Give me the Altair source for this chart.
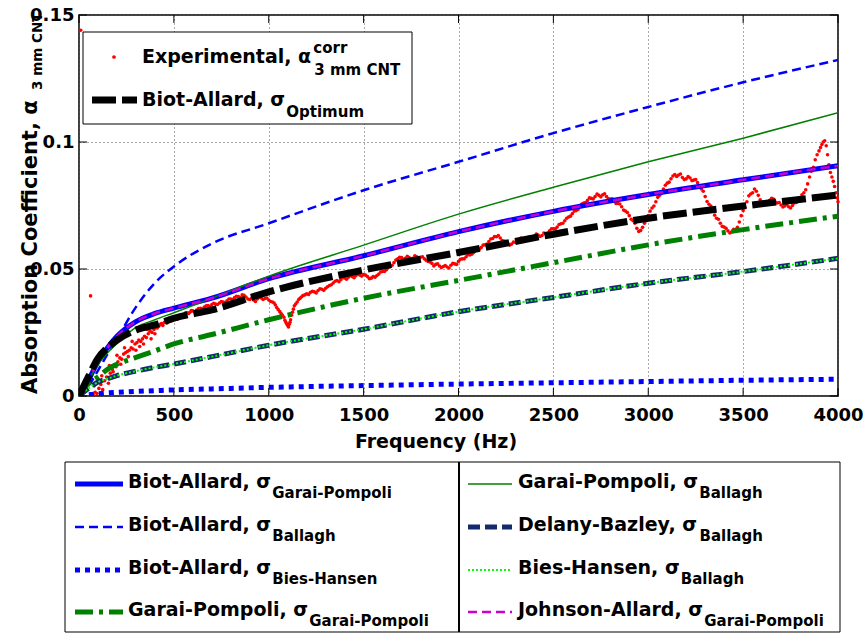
import altair as alt
import pandas as pd

FONT = "DejaVu Sans"

# ---------------- data ----------------
freq = [0, 50, 100, 150, 200, 300, 400, 500, 700, 1000, 1500, 2000, 2500, 3000, 3500, 4000]

ba_gp      = [0, 0.0063, 0.0135, 0.0190, 0.0235, 0.0293, 0.0325, 0.0346, 0.0385, 0.0462, 0.0552, 0.0647, 0.0727, 0.0793, 0.0851, 0.0907]
ba_ballagh = [0, 0.0040, 0.0100, 0.0165, 0.0225, 0.0350, 0.0445, 0.0510, 0.0600, 0.0680, 0.0810, 0.0922, 0.1035, 0.1138, 0.1235, 0.1323]
ba_bh      = [0, 0.0005, 0.0009, 0.0012, 0.0014, 0.0018, 0.0021, 0.0024, 0.0028, 0.0034, 0.0041, 0.0047, 0.0052, 0.0057, 0.0062, 0.0066]
gp_gp      = [0, 0.0050, 0.0075, 0.0105, 0.0125, 0.0152, 0.0178, 0.0205, 0.0242, 0.0300, 0.0385, 0.0455, 0.0525, 0.0595, 0.0655, 0.0708]
gp_ballagh = [0, 0.0060, 0.0125, 0.0170, 0.0207, 0.0270, 0.0300, 0.0328, 0.0385, 0.0472, 0.0594, 0.0716, 0.0822, 0.0922, 0.1015, 0.1115]
db_ballagh = [0, 0.0030, 0.0055, 0.0068, 0.0080, 0.0098, 0.0113, 0.0126, 0.0155, 0.0200, 0.0263, 0.0332, 0.0388, 0.0444, 0.0490, 0.0542]
bh_ballagh = [0, 0.0030, 0.0055, 0.0068, 0.0080, 0.0098, 0.0113, 0.0126, 0.0155, 0.0200, 0.0263, 0.0332, 0.0388, 0.0444, 0.0490, 0.0542]
ja_gp      = [0, 0.0063, 0.0135, 0.0190, 0.0235, 0.0293, 0.0325, 0.0346, 0.0385, 0.0462, 0.0552, 0.0647, 0.0727, 0.0793, 0.0851, 0.0907]
ba_opt     = [0, 0.0076, 0.0148, 0.0190, 0.0220, 0.0260, 0.0280, 0.0306, 0.0339, 0.0410, 0.0496, 0.0565, 0.0637, 0.0700, 0.0748, 0.0791]

exp_points = [
    (9, 0.144), (61, 0.0394),
    (75, 0.0005), (85, 0.0015), (95, 0.0010), (105, 0.0030), (115, 0.0045), (125, 0.0025),
    (135, 0.0060), (145, 0.0075), (155, 0.0050), (165, 0.0090), (175, 0.0105), (185, 0.0120),
    (195, 0.0115), (205, 0.0135), (215, 0.0150), (225, 0.0145), (235, 0.0165), (245, 0.0170),
    (255, 0.0175), (265, 0.0180), (275, 0.0190), (285, 0.0185), (295, 0.0205), (305, 0.0210),
    (315, 0.0220), (325, 0.0215), (335, 0.0225), (345, 0.0235), (355, 0.0230), (365, 0.0245),
    (375, 0.0255), (385, 0.0250), (395, 0.0262), (405, 0.0270), (420, 0.0275), (435, 0.0285),
    (450, 0.0290), (465, 0.0288), (480, 0.0298), (495, 0.0302), (510, 0.0305), (525, 0.0310),
    (540, 0.0318), (555, 0.0322), (570, 0.0328), (585, 0.0330), (600, 0.0335), (620, 0.0338),
    (640, 0.0345), (660, 0.0350), (680, 0.0356), (700, 0.0360), (720, 0.0362), (740, 0.0366),
    (760, 0.0370), (780, 0.0375), (800, 0.0382), (820, 0.0388), (840, 0.0392), (860, 0.0398),
    (880, 0.0390), (900, 0.0380), (920, 0.0378), (940, 0.0382), (960, 0.0386), (980, 0.0384),
    (1000, 0.0378), (1020, 0.0370), (1035, 0.0358), (1050, 0.0340), (1065, 0.0325), (1080, 0.0310),
    (1090, 0.0290), (1100, 0.0278), (1108, 0.0282), (1115, 0.0300), (1125, 0.0330), (1135, 0.0355),
    (1150, 0.0370), (1165, 0.0385), (1180, 0.0395), (1200, 0.0402), (1220, 0.0408), (1240, 0.0410),
    (1260, 0.0415), (1280, 0.0420), (1300, 0.0424), (1320, 0.0435), (1340, 0.0445), (1360, 0.0455),
    (1380, 0.0458), (1400, 0.0465), (1420, 0.0468), (1440, 0.0470), (1460, 0.0474), (1480, 0.0476),
    (1500, 0.0478), (1520, 0.0470), (1540, 0.0464), (1560, 0.0468), (1580, 0.0480), (1600, 0.0490),
    (1620, 0.0497), (1640, 0.0510), (1660, 0.0525), (1680, 0.0540), (1700, 0.0545), (1720, 0.0542),
    (1740, 0.0545), (1760, 0.0542), (1780, 0.0548), (1800, 0.0546), (1820, 0.0540), (1840, 0.0530),
    (1860, 0.0522), (1880, 0.0518), (1900, 0.0512), (1920, 0.0510), (1940, 0.0508), (1960, 0.0515),
    (1980, 0.0520), (2000, 0.0530), (2020, 0.0540), (2040, 0.0548), (2060, 0.0555), (2080, 0.0565),
    (2100, 0.0575), (2120, 0.0585), (2140, 0.0595), (2160, 0.0608), (2180, 0.0620), (2200, 0.0627),
    (2220, 0.0622), (2240, 0.0610), (2260, 0.0600), (2280, 0.0598), (2300, 0.0605), (2320, 0.0615),
    (2340, 0.0620), (2360, 0.0618), (2380, 0.0625), (2400, 0.0630), (2420, 0.0634), (2440, 0.0632),
    (2460, 0.0640), (2480, 0.0650), (2500, 0.0658), (2520, 0.0665), (2540, 0.0678), (2560, 0.0690),
    (2580, 0.0705), (2600, 0.0718), (2620, 0.0730), (2640, 0.0745), (2660, 0.0760), (2680, 0.0770),
    (2700, 0.0778), (2720, 0.0785), (2740, 0.0790), (2760, 0.0792), (2780, 0.0785), (2800, 0.0775),
    (2820, 0.0768), (2840, 0.0758), (2860, 0.0745), (2880, 0.0728), (2900, 0.0710), (2920, 0.0690),
    (2940, 0.0660), (2960, 0.0652), (2980, 0.0680), (3000, 0.0710), (3020, 0.0740), (3040, 0.0765),
    (3060, 0.0790), (3080, 0.0815), (3100, 0.0838), (3120, 0.0855), (3140, 0.0872), (3160, 0.0870),
    (3180, 0.0860), (3200, 0.0855), (3220, 0.0858), (3240, 0.0850), (3260, 0.0840), (3280, 0.0815),
    (3300, 0.0785), (3320, 0.0755), (3340, 0.0730), (3360, 0.0700), (3380, 0.0680), (3400, 0.0665),
    (3420, 0.0650), (3440, 0.0646), (3460, 0.0655), (3480, 0.0685), (3500, 0.0730), (3520, 0.0765),
    (3540, 0.0795), (3560, 0.0815), (3580, 0.0790), (3600, 0.0758), (3620, 0.0755), (3640, 0.0770),
    (3660, 0.0775), (3680, 0.0760), (3700, 0.0752), (3720, 0.0748), (3740, 0.0745), (3760, 0.0750),
    (3780, 0.0762), (3800, 0.0778), (3820, 0.0800), (3840, 0.0835), (3860, 0.0885), (3880, 0.0930),
    (3900, 0.0965), (3915, 0.0990), (3930, 0.1005), (3945, 0.0950), (3960, 0.0880), (3975, 0.0845),
    (3990, 0.0800), (4000, 0.0765),
]

# second pass of readings (the spread of the measured band)
exp_points_b = [
    (80, 0.0040), (100, 0.0060), (120, 0.0080), (140, 0.0100), (160, 0.0120), (180, 0.0095),
    (200, 0.0160), (220, 0.0125), (240, 0.0190), (260, 0.0155), (280, 0.0215), (300, 0.0180),
    (320, 0.0195), (340, 0.0205), (360, 0.0262), (380, 0.0225), (400, 0.0245),
    (412, 0.0268), (428, 0.0282), (442, 0.0278), (458, 0.0292), (472, 0.0295), (488, 0.0296),
    (502, 0.0308), (518, 0.0302), (532, 0.0316), (548, 0.0315), (562, 0.0328), (578, 0.0325),
    (592, 0.0336), (610, 0.0332), (630, 0.0344), (650, 0.0342), (670, 0.0355), (690, 0.0352),
    (710, 0.0365), (730, 0.0360), (750, 0.0372), (770, 0.0368), (790, 0.0382), (810, 0.0380),
    (830, 0.0393), (850, 0.0388), (870, 0.0396), (890, 0.0382), (910, 0.0386), (930, 0.0372),
    (950, 0.0390), (970, 0.0380), (990, 0.0386), (1010, 0.0372), (1028, 0.0366), (1042, 0.0348),
    (1058, 0.0332), (1072, 0.0318), (1085, 0.0298), (1095, 0.0283), (1104, 0.0272), (1112, 0.0290),
    (1120, 0.0318), (1130, 0.0342), (1142, 0.0362), (1158, 0.0380), (1172, 0.0390), (1190, 0.0398),
    (1210, 0.0400), (1230, 0.0412), (1250, 0.0406), (1270, 0.0422), (1290, 0.0416), (1310, 0.0430),
    (1330, 0.0438), (1350, 0.0452), (1370, 0.0450), (1390, 0.0466), (1410, 0.0460), (1430, 0.0474),
    (1450, 0.0466), (1470, 0.0480), (1490, 0.0472), (1510, 0.0476), (1530, 0.0462), (1550, 0.0470),
    (1570, 0.0474), (1590, 0.0488), (1610, 0.0490), (1630, 0.0506), (1650, 0.0515), (1670, 0.0535),
    (1690, 0.0546), (1710, 0.0538), (1730, 0.0550), (1750, 0.0538), (1770, 0.0552), (1790, 0.0542),
    (1810, 0.0548), (1830, 0.0534), (1850, 0.0528), (1870, 0.0512), (1890, 0.0520), (1910, 0.0506),
    (1930, 0.0514), (1950, 0.0504), (1970, 0.0522), (1990, 0.0518), (2010, 0.0538), (2030, 0.0540),
    (2050, 0.0556), (2070, 0.0558), (2090, 0.0574), (2110, 0.0578), (2130, 0.0594), (2150, 0.0598),
    (2170, 0.0618), (2190, 0.0628), (2210, 0.0632), (2230, 0.0612), (2250, 0.0608), (2270, 0.0594),
    (2290, 0.0606), (2310, 0.0606), (2330, 0.0622), (2350, 0.0612), (2370, 0.0626), (2390, 0.0622),
    (2410, 0.0638), (2430, 0.0628), (2450, 0.0642), (2470, 0.0642), (2490, 0.0658), (2510, 0.0658),
    (2530, 0.0675), (2550, 0.0680), (2570, 0.0700), (2590, 0.0708), (2610, 0.0728), (2630, 0.0734),
    (2650, 0.0756), (2670, 0.0762), (2690, 0.0780), (2710, 0.0776), (2730, 0.0795), (2750, 0.0784),
    (2770, 0.0796), (2790, 0.0776), (2810, 0.0776), (2830, 0.0758), (2850, 0.0756), (2870, 0.0732),
    (2890, 0.0722), (2910, 0.0696), (2930, 0.0680), (2950, 0.0648), (2970, 0.0664), (2990, 0.0690),
    (3010, 0.0728), (3030, 0.0748), (3050, 0.0782), (3070, 0.0798), (3090, 0.0830), (3110, 0.0842),
    (3130, 0.0866), (3150, 0.0864), (3170, 0.0874), (3190, 0.0852), (3210, 0.0864), (3230, 0.0848),
    (3250, 0.0852), (3270, 0.0826), (3290, 0.0806), (3310, 0.0766), (3330, 0.0748), (3350, 0.0712),
    (3370, 0.0696), (3390, 0.0668), (3410, 0.0660), (3430, 0.0642), (3450, 0.0656), (3470, 0.0664),
    (3490, 0.0710), (3510, 0.0742), (3530, 0.0788), (3550, 0.0800), (3570, 0.0806), (3590, 0.0772),
    (3610, 0.0764), (3630, 0.0760), (3650, 0.0778), (3670, 0.0764), (3690, 0.0762), (3710, 0.0744),
    (3730, 0.0754), (3750, 0.0740), (3770, 0.0760), (3790, 0.0766), (3810, 0.0792), (3830, 0.0812),
    (3850, 0.0862), (3870, 0.0900), (3890, 0.0950), (3908, 0.0978), (3922, 0.1000), (3938, 0.0985),
    (3952, 0.0910), (3968, 0.0862), (3982, 0.0825), (3996, 0.0780),
]
exp_all = exp_points + exp_points_b
exp_f = [p[0] for p in exp_all]
exp_a = [p[1] for p in exp_all]

x_ticks = [0, 500, 1000, 1500, 2000, 2500, 3000, 3500, 4000]
y_ticks = [0, 0.05, 0.1, 0.15]

# ---------------- layout ----------------
W, H = 759, 381
PL, PT = 79, 15

# approximate DejaVu Sans Bold advance widths (em units) for placing sub/superscripts
GW = {" ": 0.348, ",": 0.381, "-": 0.415, "A": 0.774, "B": 0.762, "D": 0.830, "E": 0.683,
      "G": 0.821, "H": 0.837, "J": 0.372, "P": 0.733, "a": 0.675, "b": 0.716, "d": 0.716,
      "e": 0.678, "h": 0.712, "i": 0.343, "l": 0.343, "m": 1.042, "n": 0.712, "o": 0.687,
      "p": 0.716, "r": 0.493, "s": 0.595, "t": 0.478, "x": 0.663, "y": 0.652, "z": 0.571,
      "α": 0.730, "σ": 0.730}


def tw(s, size):
    return sum(GW.get(ch, 0.65) for ch in s) * size


xs = alt.Scale(domain=[0, 4000], nice=False, zero=False)
ys = alt.Scale(domain=[0, 0.15], nice=False, zero=False)

common_axis = dict(title=None, labelFont=FONT, labelFontWeight="bold", labelFontSize=18,
                   labelColor="black", ticks=False, domain=False, grid=True,
                   gridColor="#555555", gridDash=[1, 3], gridWidth=1,
                   labelFlush=False, labelOverlap=False)
x_axis = alt.Axis(values=x_ticks, format="d", labelPadding=10, **common_axis)
y_axis = alt.Axis(values=y_ticks, labelExpr="toString(datum.value)", labelPadding=5, **common_axis)

one = pd.DataFrame({"k": [0]})


def X(field):
    return alt.X(field, scale=xs, axis=x_axis)


def Y(field):
    return alt.Y(field, scale=ys, axis=y_axis)


def series(vals, color, width, dash=None):
    df = pd.DataFrame({"f": freq, "a": vals})
    kw = dict(color=color, strokeWidth=width, interpolate="monotone", clip=True, strokeCap="butt")
    if dash:
        kw["strokeDash"] = dash
    return alt.Chart(df).mark_line(**kw).encode(x=X("f:Q"), y=Y("a:Q"))


def txt(s, x, y, size, angle=0, align="left"):
    return alt.Chart(one).mark_text(text=s, font=FONT, fontWeight="bold", fontSize=size,
                                    align=align, baseline="alphabetic", angle=angle,
                                    color="black").encode(x=alt.value(x - PL), y=alt.value(y - PT))


def sample(x1, x2, y, color, width, dash=None):
    kw = dict(color=color, strokeWidth=width, strokeCap="butt")
    if dash:
        kw["strokeDash"] = dash
    return alt.Chart(one).mark_rule(**kw).encode(x=alt.value(x1 - PL), x2=alt.value(x2 - PL),
                                                 y=alt.value(y - PT))


def box(x1, x2, y1, y2):
    return alt.Chart(one).mark_rect(fill="white", stroke="black", strokeWidth=1).encode(
        x=alt.value(x1 - PL), x2=alt.value(x2 - PL), y=alt.value(y1 - PT), y2=alt.value(y2 - PT))


BLUE = "#0000FF"
GREEN = "#008000"
NAVY = "#15296B"
LIME = "#00FF00"
MAG = "#CC00CC"

STY = {
    "ba_gp": (BLUE, 5, None),
    "ba_ballagh": (BLUE, 2.5, [9, 5]),
    "ba_bh": (BLUE, 5, [5, 5]),
    "gp_gp": (GREEN, 5, [18, 6, 4, 6]),
    "gp_ballagh": (GREEN, 1.5, None),
    "db_ballagh": (NAVY, 5, [12, 5]),
    "bh_ballagh": (LIME, 2, [2, 2]),
    "ja_gp": (MAG, 2.5, [9, 5]),
    "ba_opt": ("black", 7, [24, 6]),
}

exp_df = pd.DataFrame({"f": exp_f, "a": exp_a})
exp_layer = alt.Chart(exp_df).mark_circle(color="#FF0000", size=13, opacity=1).encode(x=X("f:Q"), y=Y("a:Q"))

xt_df = pd.DataFrame({"v": x_ticks})
yt_df = pd.DataFrame({"v": y_ticks})
tick_kw = dict(color="black", strokeWidth=1)
ticks = [
    alt.Chart(xt_df).mark_rule(**tick_kw).encode(x=X("v:Q"), y=alt.value(H), y2=alt.value(H - 8)),
    alt.Chart(xt_df).mark_rule(**tick_kw).encode(x=X("v:Q"), y=alt.value(0), y2=alt.value(8)),
    alt.Chart(yt_df).mark_rule(**tick_kw).encode(y=Y("v:Q"), x=alt.value(0), x2=alt.value(8)),
    alt.Chart(yt_df).mark_rule(**tick_kw).encode(y=Y("v:Q"), x=alt.value(W), x2=alt.value(W - 8)),
]

lines = [
    series(ba_gp, *STY["ba_gp"]),
    series(ba_ballagh, *STY["ba_ballagh"]),
    series(ba_bh, *STY["ba_bh"]),
    series(gp_gp, *STY["gp_gp"]),
    series(gp_ballagh, *STY["gp_ballagh"]),
    series(db_ballagh, *STY["db_ballagh"]),
    series(bh_ballagh, *STY["bh_ballagh"]),
    series(ja_gp, *STY["ja_gp"]),
    series(ba_opt, *STY["ba_opt"]),
]

# axis titles
YT_MAIN = "Absorption Coefficient, α"
titles = [
    txt("Frequency (Hz)", 436, 448, 19, align="center"),
    txt(YT_MAIN, 37, 394, 21, angle=270),
    txt("3 mm CNT", 42, 394 - tw(YT_MAIN, 21) + 1, 13.5, angle=270),
]

# inner legend
M1 = "Experimental, α"
M2 = "Biot-Allard, σ"
inner = [
    box(83, 412, 32, 124),
    alt.Chart(one).mark_circle(color="#FF0000", size=14, opacity=1).encode(x=alt.value(114 - PL), y=alt.value(57 - PT)),
    txt(M1, 142, 63, 19),
    txt("corr", 142 + tw(M1, 19) + 1, 53, 15),
    txt("3 mm CNT", 142 + tw(M1, 19) + 2, 75, 15),
    sample(92, 137, 100, "black", 7, [24, 6]),
    txt(M2, 142, 106, 19),
    txt("Optimum", 142 + tw(M2, 19) + 2, 117, 15),
]

# outer legend
rows = [488, 531, 574, 616]
left_entries = [
    ("Biot-Allard, σ", "Garai-Pompoli", "ba_gp"),
    ("Biot-Allard, σ", "Ballagh", "ba_ballagh"),
    ("Biot-Allard, σ", "Bies-Hansen", "ba_bh"),
    ("Garai-Pompoli, σ", "Garai-Pompoli", "gp_gp"),
]
right_entries = [
    ("Garai-Pompoli, σ", "Ballagh", "gp_ballagh"),
    ("Delany-Bazley, σ", "Ballagh", "db_ballagh"),
    ("Bies-Hansen, σ", "Ballagh", "bh_ballagh"),
    ("Johnson-Allard, σ", "Garai-Pompoli", "ja_gp"),
]
outer = [
    box(65, 840, 462, 632),
    alt.Chart(one).mark_rule(color="black", strokeWidth=2).encode(
        x=alt.value(459 - PL), y=alt.value(462 - PT), y2=alt.value(632 - PT)),
]
for entries, lx1, lx2, tx in ((left_entries, 75, 123, 128), (right_entries, 468, 512, 518)):
    for (main, sub, key), by in zip(entries, rows):
        c, w, d = STY[key]
        outer.append(sample(lx1, lx2, by - 4, c, w, d))
        outer.append(txt(main, tx, by, 19))
        outer.append(txt(sub, tx + tw(main, 19) + 2, by + 10, 15))

chart = alt.layer(exp_layer, *lines, *ticks, *titles, *inner, *outer).properties(
    width=W, height=H,
    autosize=alt.AutoSizeParams(type="none"),
    padding={"left": PL, "top": PT, "right": 867 - PL - W, "bottom": 634 - PT - H},
).configure_view(stroke="black", strokeWidth=1.5)

chart.save("out.html", embed_options={"renderer": "svg", "actions": False})
